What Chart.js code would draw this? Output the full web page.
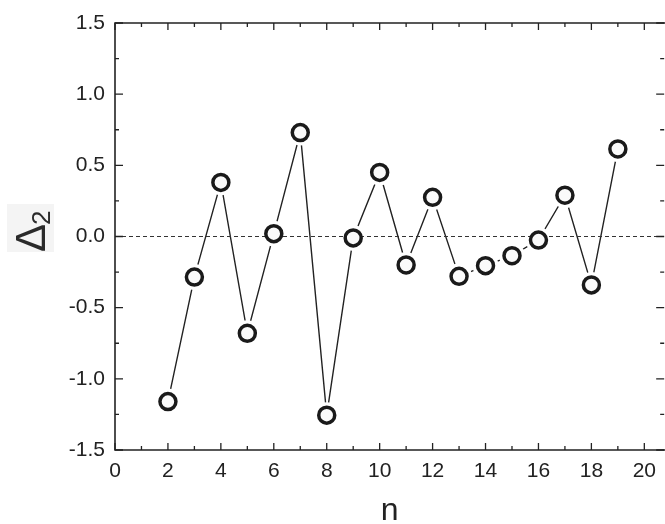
<!DOCTYPE html>
<html>
<head>
<meta charset="utf-8">
<script src="https://cdn.jsdelivr.net/npm/chart.js@4"></script>
<style>
  body { margin: 0; background: #fff; }
  canvas { display: block; }
</style>
</head>
<body>
<canvas id="chart" width="665" height="524"></canvas>
<script>
// values
const nValues = [2, 3, 4, 5, 6, 7, 8, 9, 10, 11, 12, 13, 14, 15, 16, 17, 18, 19];
const delta2 = [-1.16, -0.285, 0.38, -0.68, 0.02, 0.73, -1.255, -0.01, 0.45, -0.2, 0.275, -0.28, -0.205, -0.135, -0.025, 0.29, -0.34, 0.615];
const xRange = [0, 20.75];
const yRange = [-1.5, 1.5];
const zeroLevel = 0;

const FONT = "'Liberation Sans', Arial, sans-serif";
const INK = '#222';

const points = nValues.map((n, i) => ({ x: n, y: delta2[i] }));
const zeroLine = xRange.map(x => ({ x: x, y: zeroLevel }));

// frame + inward major/minor ticks on all four sides, and the axis titles
const frame = {
  id: 'frame',
  afterDraw(chart) {
    const { ctx, chartArea: a, scales } = chart;
    const xs = scales.x, ys = scales.y;
    ctx.save();
    ctx.strokeStyle = INK;
    ctx.lineWidth = 1.6;
    ctx.beginPath();
    ctx.moveTo(a.right + 2, a.top);
    ctx.lineTo(a.left, a.top);
    ctx.lineTo(a.left, a.bottom);
    ctx.lineTo(a.right + 2, a.bottom);
    ctx.stroke();

    ctx.lineWidth = 1.3;
    ctx.beginPath();
    for (let v = 0; v <= 20; v++) {
      const px = xs.getPixelForValue(v);
      const len = v % 2 === 0 ? 7 : 4;
      ctx.moveTo(px, a.bottom); ctx.lineTo(px, a.bottom - len);
      ctx.moveTo(px, a.top); ctx.lineTo(px, a.top + len);
    }
    for (let k = 0; k <= 12; k++) {
      const v = yRange[0] + k * 0.25;
      const py = ys.getPixelForValue(v);
      const len = k % 2 === 0 ? 8 : 4;
      ctx.moveTo(a.left, py); ctx.lineTo(a.left + len, py);
      ctx.moveTo(a.right, py); ctx.lineTo(a.right - len, py);
    }
    ctx.stroke();

    // x title
    ctx.fillStyle = INK;
    ctx.font = '32px ' + FONT;
    ctx.textAlign = 'center';
    ctx.textBaseline = 'alphabetic';
    ctx.fillText('n', (a.left + a.right) / 2, 520);

    // y title: Δ with subscript 2, rotated
    ctx.fillStyle = '#f4f4f4';
    ctx.fillRect(7, 204, 47, 48);
    ctx.fillStyle = '#2a2a2a';
    ctx.translate(45, 252);
    ctx.rotate(-Math.PI / 2);
    ctx.textAlign = 'left';
    ctx.font = '42px ' + FONT;
    ctx.fillText('Δ', 0, 0);
    ctx.font = '26px ' + FONT;
    ctx.fillText('2', 27, 5);
    ctx.restore();
  }
};

new Chart(document.getElementById('chart'), {
  type: 'scatter',
  data: {
    datasets: [
      {
        data: points,
        showLine: true,
        borderColor: INK,
        borderWidth: 1.4,
        pointRadius: 0,
        order: 4
      },
      {
        data: points,
        showLine: false,
        pointRadius: 13,
        pointBackgroundColor: '#fff',
        pointBorderWidth: 0,
        pointBorderColor: '#fff',
        order: 3
      },
      {
        data: zeroLine,
        showLine: true,
        borderColor: '#333',
        borderWidth: 1,
        borderDash: [4, 3],
        pointRadius: 0,
        order: 2
      },
      {
        data: points,
        showLine: false,
        pointRadius: 8,
        pointBorderWidth: 3.5,
        pointBorderColor: '#1a1a1a',
        pointBackgroundColor: '#fafafa',
        order: 1
      }
    ]
  },
  options: {
    responsive: false,
    animation: false,
    devicePixelRatio: 1,
    layout: { autoPadding: false, padding: { top: 23, right: 0, bottom: 0, left: 0 } },
    plugins: { legend: { display: false }, tooltip: { enabled: false } },
    scales: {
      x: {
        type: 'linear',
        min: xRange[0],
        max: xRange[1],
        grid: { display: false, drawTicks: false },
        border: { display: false },
        ticks: {
          stepSize: 2,
          includeBounds: false,
          padding: 9,
          color: INK,
          font: { family: FONT, size: 21 }
        },
        afterFit: s => { s.height = 74; }
      },
      y: {
        min: yRange[0],
        max: yRange[1],
        grid: { display: false, drawTicks: false },
        border: { display: false },
        ticks: {
          stepSize: 0.5,
          padding: 10,
          color: INK,
          font: { family: FONT, size: 21 },
          callback: v => v.toFixed(1)
        },
        afterFit: s => { s.width = 115; }
      }
    }
  },
  plugins: [frame]
});
</script>
</body>
</html>
